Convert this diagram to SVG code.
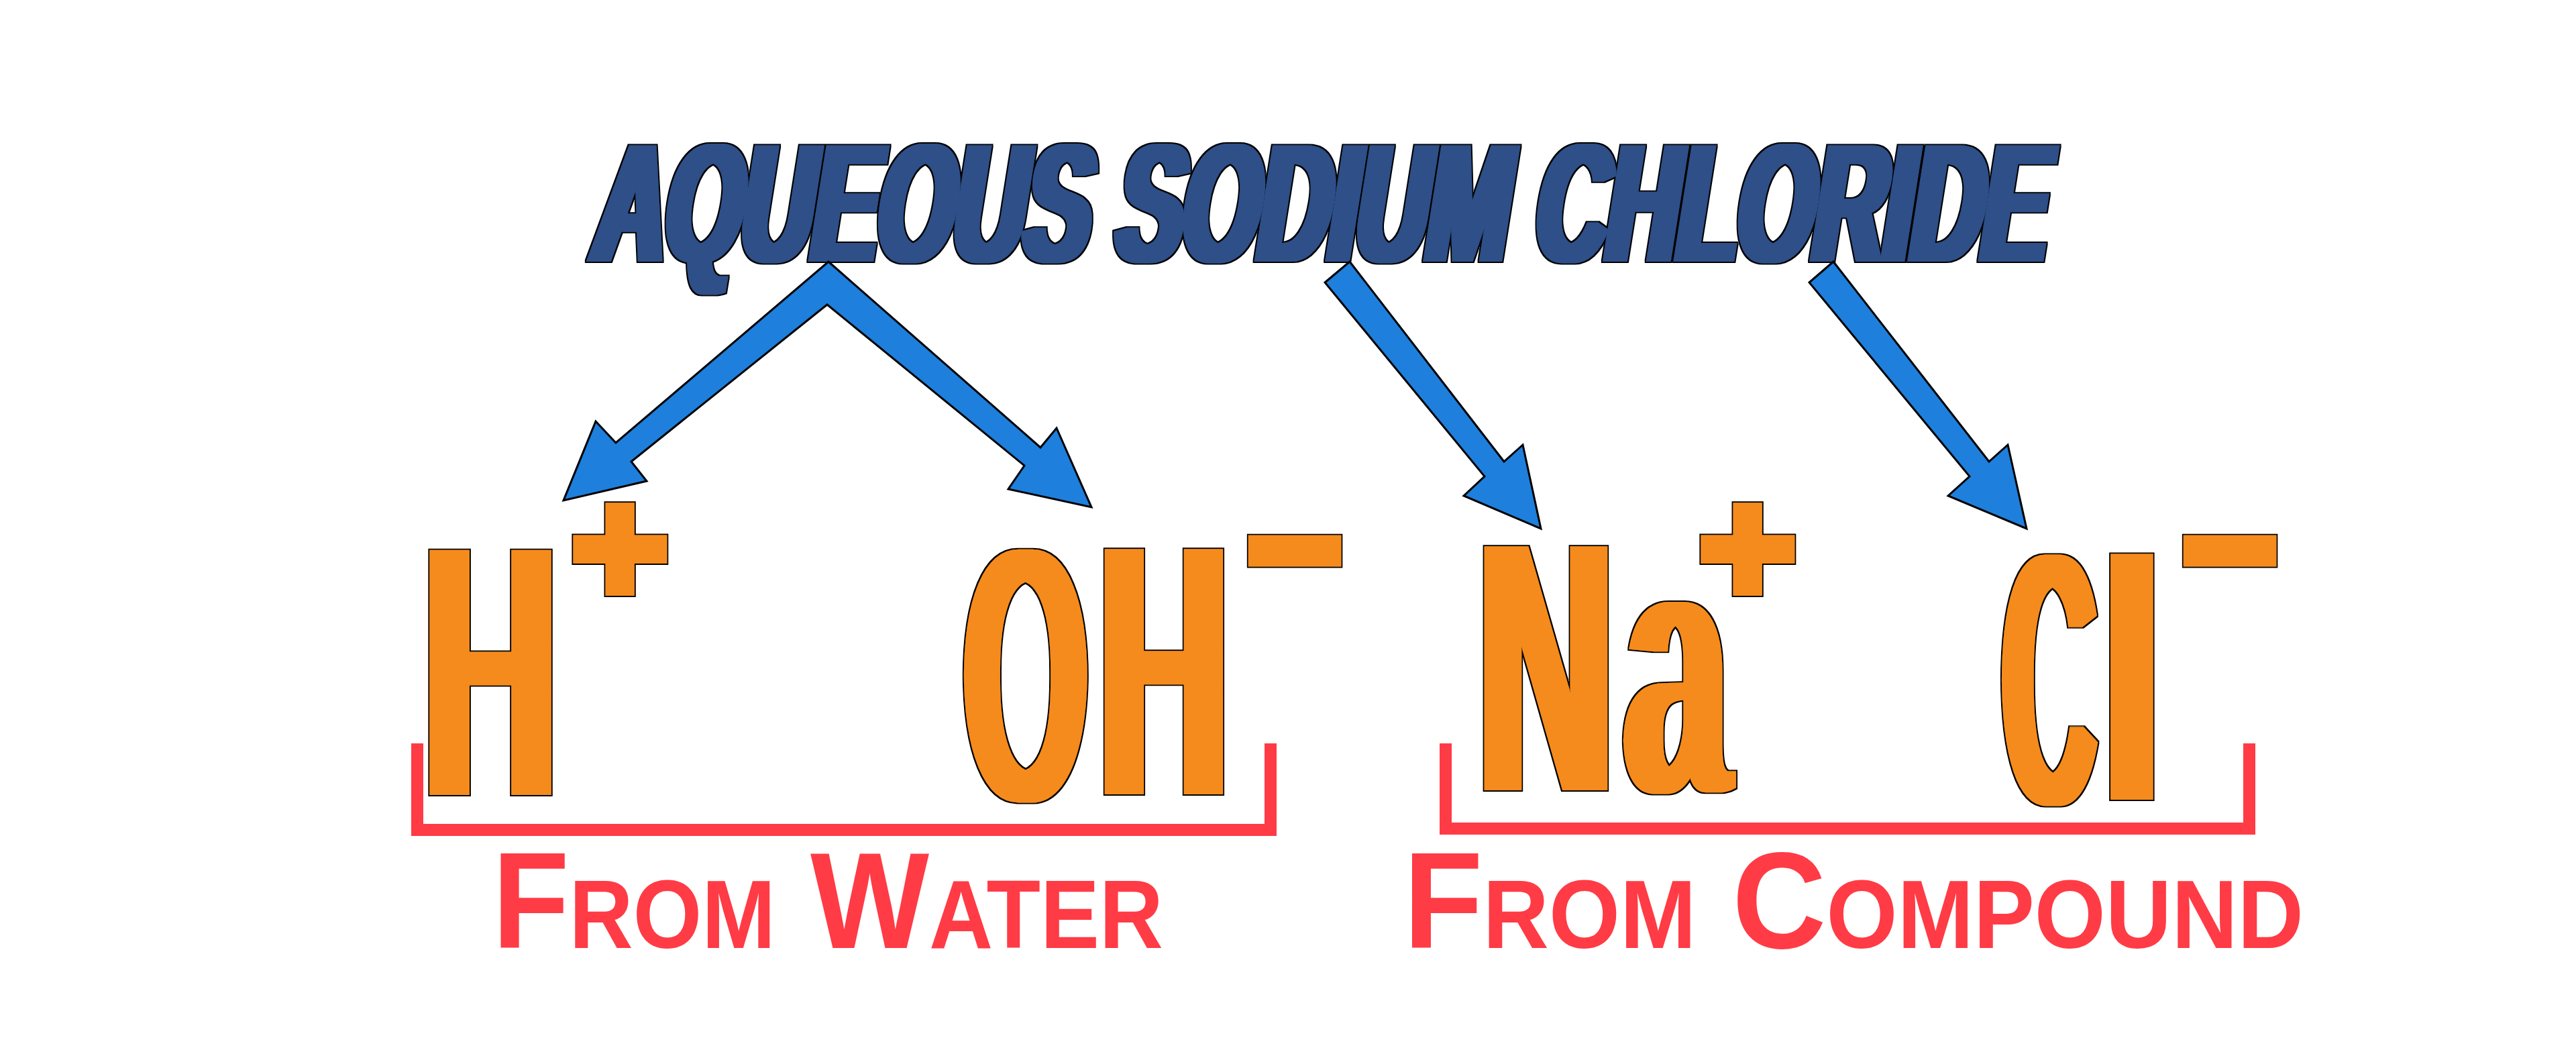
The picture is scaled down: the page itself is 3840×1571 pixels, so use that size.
<svg xmlns="http://www.w3.org/2000/svg" width="3840" height="1571" viewBox="0 0 3840 1571">
<defs>
<style>
.ion{font-family:"Liberation Sans",Arial,sans-serif;font-weight:700;fill:#000}
.title{font-family:"Liberation Sans",Arial,sans-serif;font-weight:700;font-size:252px;fill:#000}
.lbl{font-family:"Liberation Sans",Arial,sans-serif;font-weight:700;font-size:205px;font-variant:small-caps;fill:#FF3B45}
.arrow{fill:#1E7FDC;stroke:#000;stroke-width:3;stroke-linejoin:miter}
.bracket{fill:none;stroke:#FF3B45;stroke-width:18;stroke-linejoin:miter;stroke-linecap:butt}
</style>
<filter id="fIon">
<feMorphology in="SourceAlpha" operator="erode" radius="0.1 8" result="e"/>
<feMorphology in="e" operator="dilate" radius="10 0.1" result="d"/>
<feMorphology in="d" operator="dilate" radius="2 2" result="o"/>
<feFlood flood-color="#000"/>
<feComposite in2="o" operator="in" result="blk"/>
<feFlood flood-color="#F58B1F"/>
<feComposite in2="d" operator="in" result="org"/>
<feMerge><feMergeNode in="blk"/><feMergeNode in="org"/></feMerge>
</filter>
<filter id="fSup">
<feMorphology in="SourceAlpha" operator="dilate" radius="8 8" result="d"/>
<feMorphology in="d" operator="dilate" radius="2 2" result="o"/>
<feFlood flood-color="#000"/>
<feComposite in2="o" operator="in" result="blk"/>
<feFlood flood-color="#F58B1F"/>
<feComposite in2="d" operator="in" result="org"/>
<feMerge><feMergeNode in="blk"/><feMergeNode in="org"/></feMerge>
</filter>
<filter id="fTitle" x="-5%" y="-20%" width="110%" height="140%">
<feMorphology in="SourceAlpha" operator="dilate" radius="8 0.1" result="d"/>
<feMorphology in="d" operator="dilate" radius="1.5 1.5" result="o"/>
<feFlood flood-color="#000"/>
<feComposite in2="o" operator="in" result="blk"/>
<feFlood flood-color="#2F4F87"/>
<feComposite in2="d" operator="in" result="blu"/>
<feMerge><feMergeNode in="blk"/><feMergeNode in="blu"/></feMerge>
</filter>
</defs>
<rect width="3840" height="1571" fill="#fff"/>

<g id="title" filter="url(#fTitle)">
<text class="title" x="0" y="0" textLength="2166" lengthAdjust="spacingAndGlyphs" transform="translate(878,390) skewX(-9)">AQUEOUS SODIUM CHLORIDE</text>
</g>

<g id="connectors">
<polygon class="arrow" points="1235,390 1551,667 1575,638 1627,756 1503,729 1527,694 1233,454 941,688 964,717 840,746 888,628 918,660"/>
<polygon class="arrow" points="2012,390 2242,688 2270,663 2297,788 2182,739 2213,710 1975,421"/>
<polygon class="arrow" points="2733,390 2965,688 2993,663 3021,788 2904,739 2936,710 2697,421"/>
</g>

<g id="ion-hydrogen">
<g filter="url(#fIon)"><text class="ion" font-size="554" transform="translate(632,1193) scale(0.4955,1)">H</text></g>
<g filter="url(#fSup)"><text class="ion" font-size="241" transform="translate(852,899) scale(1.025,1)">+</text></g>
</g>

<g id="ion-hydroxide">
<g filter="url(#fIon)">
<text class="ion" font-size="556" transform="translate(1437,1199) scale(0.425,1)">O</text>
<text class="ion" font-size="555" transform="translate(1639,1192) scale(0.479,1)">H</text>
</g>
<g filter="url(#fSup)"><text class="ion" font-size="258" transform="translate(1850,888) scale(1.87,1)">-</text></g>
</g>

<g id="ion-sodium">
<g filter="url(#fIon)"><text class="ion" font-size="552" transform="translate(2204,1186) scale(0.504,1)">N<tspan dx="33">a</tspan></text></g>
<g filter="url(#fSup)"><text class="ion" font-size="241" transform="translate(2533,899) scale(1.025,1)">+</text></g>
</g>

<g id="ion-chloride">
<g filter="url(#fIon)">
<text class="ion" font-size="552" transform="translate(2986,1204) scale(0.348,1)">C</text>
<text class="ion" font-size="528" transform="translate(3134,1200) scale(0.6,1)">l</text>
</g>
<g filter="url(#fSup)"><text class="ion" font-size="258" transform="translate(3244,888) scale(1.87,1)">-</text></g>
</g>

<g id="bracket-water">
<polyline class="bracket" points="622,1108 622,1237 1894,1237 1894,1108"/>
</g>
<g id="bracket-compound">
<polyline class="bracket" points="2155,1108 2155,1235 3353,1235 3353,1108"/>
</g>

<g id="label-water">
<text class="lbl" x="734" y="1413" textLength="1000" lengthAdjust="spacingAndGlyphs">From Water</text>
</g>
<g id="label-compound">
<text class="lbl" x="2092" y="1413" textLength="1342" lengthAdjust="spacingAndGlyphs">From Compound</text>
</g>
</svg>
